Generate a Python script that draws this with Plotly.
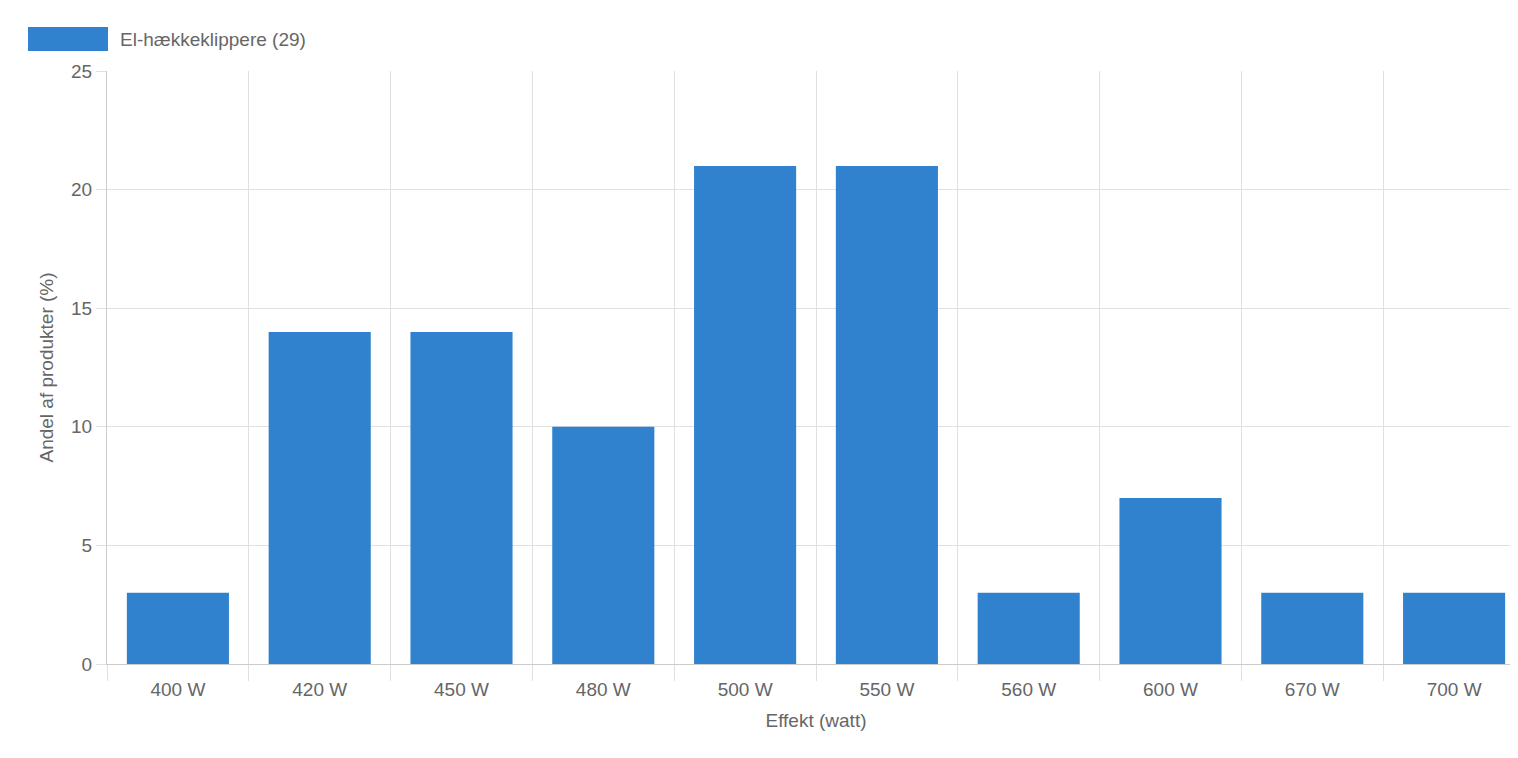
import plotly.graph_objects as go

categories = ["400 W", "420 W", "450 W", "480 W", "500 W", "550 W", "560 W", "600 W", "670 W", "700 W"]
values = [3, 14, 14, 10, 21, 21, 3, 7, 3, 3]
series_name = "El-hækkeklippere (29)"

blue = "#3182CE"
grid = "#E0E0E0"
text_col = "#666666"
positions = list(range(len(categories)))

fig = go.Figure()
fig.add_trace(go.Bar(x=positions, y=values, marker_color=blue, marker_line_width=0,
                     name=series_name, width=0.72))

fig.update_layout(
    width=1518, height=758,
    margin=dict(l=99, r=1, t=63, b=102),
    plot_bgcolor="white", paper_bgcolor="white",
    font=dict(family="Liberation Sans, Arial, sans-serif", size=19, color=text_col),
    showlegend=False,
)
fig.update_xaxes(
    tickmode="array", tickvals=positions, ticktext=categories,
    range=[-0.5, len(categories) - 0.5],
    showgrid=False, ticks="", ticklabelstandoff=8,
    showline=True, linecolor="#CCCCCC",
    minor=dict(tickmode="linear", tick0=0.5, dtick=1, showgrid=True, gridcolor=grid,
               ticks="outside", ticklen=16, tickcolor=grid),
    title=dict(text="Effekt (watt)", font=dict(size=19), standoff=14),
)
fig.update_yaxes(
    range=[0, 25], dtick=5, gridcolor=grid, zeroline=False,
    showline=True, linecolor="#CCCCCC",
    ticks="outside", ticklen=10, tickcolor=grid,
    title=dict(text="Andel af produkter (%)", font=dict(size=19), standoff=12),
)

# legend drawn Chart.js-style
fig.add_shape(type="rect", xref="paper", yref="paper",
              x0=-79 / 1418, x1=1 / 1418, y0=1 + 20 / 593, y1=1 + 44 / 593,
              fillcolor=blue, line_width=0)
fig.add_annotation(xref="paper", yref="paper", x=11 / 1418, y=1 + 32 / 593,
                   text=series_name, showarrow=False, xanchor="left", yanchor="middle",
                   font=dict(size=19, color=text_col))

fig.write_html("out.html")
